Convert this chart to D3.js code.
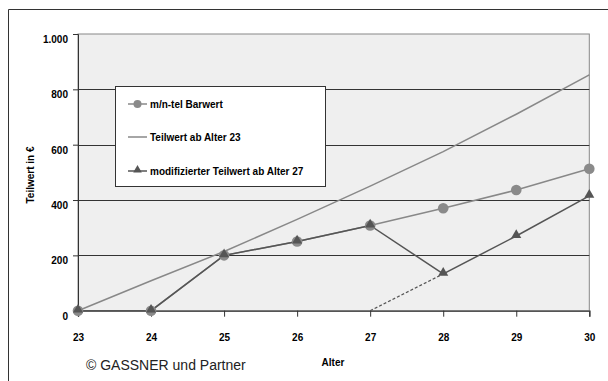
<!DOCTYPE html>
<html><head><meta charset="utf-8">
<script src="https://cdn.jsdelivr.net/npm/d3@7"></script>
<style>body{margin:0;background:#fff}svg{display:block}text{font-family:"Liberation Sans",Arial,sans-serif}</style>
</head><body>
<svg id="c" width="608" height="381"></svg>
<script>
const ages = [23,24,25,26,27,28,29,30];
const barwert = [0,0,200,250,308,370,436,513];
const teilwert = [0,108,214,330,450,575,710,852];
const modTeilwert = [0,0,200,250,308,133,270,415];
const dashedSeg = [[27,0],[28,133]];
const yTicks = [0,200,400,600,800,1000];
const yTickLabels = ["0","200","400","600","800","1.000"];
const legendLabels = ["m/n-tel Barwert","Teilwert ab Alter 23","modifizierter Teilwert ab Alter 27"];

const svg = d3.select("#c");
const L=78, R=589.3, T=34, B=310.7;
const x = d3.scaleLinear().domain([23,30]).range([L,R]);
const y = d3.scaleLinear().domain([0,1000]).range([B,T]);

// outer frame
svg.append("path").attr("d","M8.5,381 V9.5 H608").attr("fill","none").attr("stroke","#333").attr("stroke-width",1);

// plot bg
svg.append("rect").attr("x",L).attr("y",T).attr("width",R-L).attr("height",B-T).attr("fill","#efefef").attr("stroke","#888").attr("stroke-width",1);

// gridlines
svg.append("g").selectAll("line").data(yTicks.filter(d=>d>0 && d<1000)).join("line")
  .attr("x1",L).attr("x2",R).attr("y1",d=>Math.round(y(d))+0.5).attr("y2",d=>Math.round(y(d))+0.5)
  .attr("stroke","#333").attr("stroke-width",1);

// axes
const yAxis = d3.axisLeft(y).tickValues(yTicks).tickFormat((d,i)=>yTickLabels[i]).tickSize(5).tickPadding(5);
const gy = svg.append("g").attr("transform",`translate(${L},0)`).call(yAxis);
gy.select(".domain").attr("stroke","#333");
gy.selectAll("line").attr("stroke","#333");
gy.selectAll("text").attr("font-size",10).attr("font-weight","bold").attr("fill","#000").attr("dy","0.85em");

const xAxis = d3.axisBottom(x).tickValues(ages).tickFormat(d3.format("d")).tickSize(6).tickPadding(17);
const gx = svg.append("g").attr("transform",`translate(0,${B})`).call(xAxis);
gx.select(".domain").attr("stroke","#555").attr("stroke-width",1.5);
gx.selectAll("line").attr("stroke","#333");
gx.selectAll("text").attr("font-size",10).attr("font-weight","bold").attr("fill","#000");

// Teilwert line
const line = d3.line().x(d=>x(d[0])).y(d=>y(d[1]));
svg.append("path").datum(ages.map((a,i)=>[a,teilwert[i]])).attr("d",line)
  .attr("fill","none").attr("stroke","#888").attr("stroke-width",1.5);

// Barwert line
svg.append("path").datum(ages.map((a,i)=>[a,barwert[i]])).attr("d",line)
  .attr("fill","none").attr("stroke","#888").attr("stroke-width",1.5);

// modified line
svg.append("path").datum(ages.map((a,i)=>[a,modTeilwert[i]])).attr("d",line)
  .attr("fill","none").attr("stroke","#555").attr("stroke-width",1.5);
svg.append("path").datum(dashedSeg).attr("d",line)
  .attr("fill","none").attr("stroke","#555").attr("stroke-width",1.2).attr("stroke-dasharray","3,2");

// circles
svg.append("g").selectAll("circle").data(ages.map((a,i)=>[a,barwert[i]])).join("circle")
  .attr("cx",d=>x(d[0])).attr("cy",d=>y(d[1])).attr("r",5.3).attr("fill","#8a8a8a");

// triangles
const tri = d3.symbol().type(d3.symbolTriangle).size(44);
svg.append("g").selectAll("path").data(ages.map((a,i)=>[a,modTeilwert[i]])).join("path")
  .attr("d",tri).attr("transform",d=>`translate(${x(d[0])},${y(d[1])-1})`).attr("fill","#555");

// legend
const lg = svg.append("g");
lg.append("rect").attr("x",115.5).attr("y",86.5).attr("width",210).attr("height",100).attr("fill","#fff").attr("stroke","#333").attr("stroke-width",1);
const ly = [104,137,171];
legendLabels.forEach((t,i)=>{
  const g = lg.append("g");
  g.append("line").attr("x1",128).attr("x2",147).attr("y1",ly[i]).attr("y2",ly[i])
    .attr("stroke", i===2?"#555":"#888").attr("stroke-width",1.5);
  if(i===0) g.append("circle").attr("cx",137.5).attr("cy",ly[i]).attr("r",4).attr("fill","#8a8a8a");
  if(i===2) g.append("path").attr("d",d3.symbol().type(d3.symbolTriangle).size(32)).attr("transform",`translate(137.5,${ly[i]-1})`).attr("fill","#555");
  g.append("text").attr("x",150).attr("y",ly[i]).attr("dy","0.35em").attr("font-size",10).attr("font-weight","bold").text(t);
});

// axis titles
svg.append("text").attr("transform","translate(33.5,175) rotate(-90)").attr("text-anchor","middle")
  .attr("font-size",10).attr("font-weight","bold").text("Teilwert in €");
svg.append("text").attr("x",333).attr("y",365.5).attr("text-anchor","middle")
  .attr("font-size",10).attr("font-weight","bold").text("Alter");
svg.append("text").attr("x",86).attr("y",369.5).attr("font-size",14).attr("fill","#222").text("© GASSNER und Partner");
</script>
</body></html>
